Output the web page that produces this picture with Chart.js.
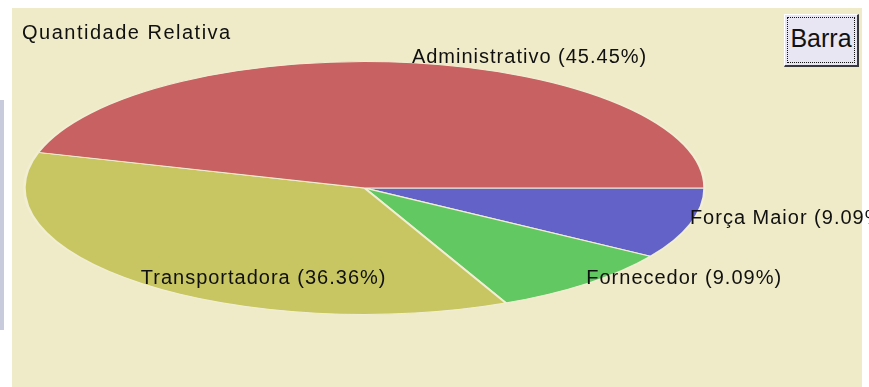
<!DOCTYPE html>
<html>
<head>
<meta charset="utf-8">
<script src="https://cdn.jsdelivr.net/npm/chart.js@4/dist/chart.umd.min.js"></script>
<style>
  body { margin: 0; width: 869px; height: 387px; overflow: hidden; position: relative; background: #fff; }
  #panel { position: absolute; left: 12px; top: 8px; width: 850px; height: 379px; background: #efebc8; }
  #strip { position: absolute; left: 0; top: 100px; width: 4px; height: 230px; background: #c7cbdc; }
  #barra {
    position: absolute; left: 784px; top: 14px; width: 72px; height: 50px;
    background: #e7e6f2; border-left: 1px solid #fff; border-top: 1px solid #fff;
    border-right: 2px solid #3a3a3a; border-bottom: 2px solid #3a3a3a;
    font: 25px "Liberation Sans", Arial, sans-serif; color: #111;
  }
  #barra span {
    position: absolute; left: 2px; top: 2px; right: 2px; bottom: 2px;
    border: 1px dotted #111; display: flex; align-items: center; justify-content: center;
    padding-bottom: 3px; box-sizing: border-box;
  }
  canvas { position: absolute; left: 0; top: 0; }
</style>
</head>
<body>
<div id="strip"></div>
<div id="panel"></div>
<canvas id="pie" width="869" height="387"></canvas>
<div id="barra"><span>Barra</span></div>
<script>
// slices listed clockwise from 3 o'clock
const categories = ["Força Maior", "Fornecedor", "Transportadora", "Administrativo"];
const values = [9.09, 9.09, 36.36, 45.45];
const colors = ["#6262c8", "#62c862", "#c8c662", "#c86262"];
const chartTitle = "Quantidade Relativa";

const labelFont = '20px "Liberation Sans", Arial, sans-serif';

// squash the round pie into an ellipse filling the chart area, then label each slice
const ellipsePie = {
  id: "ellipsePie",
  beforeDatasetsDraw(chart) {
    const a = chart.chartArea, ctx = chart.ctx;
    const cx = (a.left + a.right) / 2, cy = (a.top + a.bottom) / 2;
    ctx.save();
    ctx.translate(cx, cy);
    ctx.scale(a.width / a.height, 1);
    ctx.translate(-cx, -cy);
  },
  afterDatasetsDraw(chart) {
    const a = chart.chartArea, ctx = chart.ctx;
    ctx.restore();
    const sx = a.width / a.height;
    ctx.save();
    ctx.font = labelFont;
    ctx.letterSpacing = "1px";
    ctx.fillStyle = "#101010";
    ctx.textAlign = "left";
    ctx.textBaseline = "alphabetic";
    chart.getDatasetMeta(0).data.forEach((arc, i) => {
      const mid = (arc.startAngle + arc.endAngle) / 2;
      const x = arc.x + Math.cos(mid) * arc.outerRadius * sx;
      const y = arc.y + Math.sin(mid) * arc.outerRadius;
      ctx.fillText(categories[i] + " (" + values[i].toFixed(2) + "%)", x - 1, y);
    });
    ctx.letterSpacing = "1.5px";
    ctx.fillText(chartTitle, 22, 39);
    ctx.restore();
  }
};

new Chart(document.getElementById("pie"), {
  type: "pie",
  data: {
    labels: categories,
    datasets: [{
      data: values,
      backgroundColor: colors,
      borderColor: "#f1eed3",
      borderWidth: 1
    }]
  },
  options: {
    responsive: false,
    animation: false,
    rotation: 90,
    layout: { padding: { left: 23, right: 163, top: 61, bottom: 72 } },
    plugins: {
      legend: { display: false },
      tooltip: { enabled: false },
      title: { display: false }
    }
  },
  plugins: [ellipsePie]
});
</script>
</body>
</html>
